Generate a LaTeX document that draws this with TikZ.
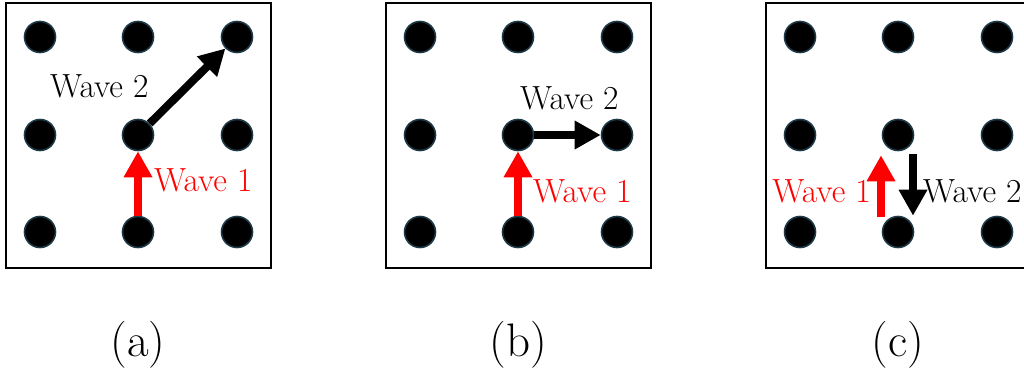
\documentclass[tikz,border=0pt]{standalone}
\usetikzlibrary{arrows.meta,calc}
\definecolor{dotedge}{RGB}{30,58,72}
\definecolor{wavered}{RGB}{255,0,0}
\tikzset{
  dot/.style={circle,minimum size=31pt,inner sep=0pt,fill=black,draw=dotedge,line width=1.6pt},
  panel/.style={draw=black,line width=2.6pt},
  wavearrow/.style={line width=8pt,-{Triangle[length=26pt,width=27pt]}},
  redarrow/.style={wavearrow,draw=wavered},
  blackarrow/.style={wavearrow,draw=black},
  wavetext/.style={font=\rmfamily\fontsize{33.5}{36}\selectfont,inner sep=0pt,anchor=base west},
  sublabel/.style={font=\rmfamily\fontsize{47}{50}\selectfont,inner sep=0pt,anchor=base}
}
\begin{document}
\begin{tikzpicture}[x=1pt,y=-1pt]
\useasboundingbox[fill=white] (0,0) rectangle (1024,371);
\begin{scope}
\clip (0,0) rectangle (1024,371);
% panels
\draw[panel] (6,3) rectangle (271,268);
\draw[panel] (386,3) rectangle (651,268);
\draw[panel] (766,3) rectangle (1031,268);
% dots
\foreach \p/\ox in {a/0,b/380,c/760}{
  \foreach \r/\y in {0/37,1/135,2/232}{
    \foreach \c/\x in {0/40,1/138,2/237}{
      \node[dot] (\p\r\c) at (\x+\ox,\y) {};
    }
  }
}
\end{scope}
% panel (a)
\draw[redarrow] (a21) -- (a11);
\draw[blackarrow] (a11) -- (a02);
\node[wavetext] (a-w2) at (50,98) {Wave 2};
\node[wavetext,text=wavered] (a-w1) at (154,192) {Wave 1};
% panel (b)
\draw[redarrow] (b21) -- (b11);
\draw[blackarrow] (b11) -- (b12);
\node[wavetext] (b-w2) at (520,110) {Wave 2};
\node[wavetext,text=wavered] (b-w1) at (533,203) {Wave 1};
% panel (c)
\coordinate (c-r0) at ($(c21.north)+(-17,1)$);
\coordinate (c-r1) at ($(c11.south)+(-17,4)$);
\coordinate (c-k0) at ($(c11.south)+(15,3)$);
\coordinate (c-k1) at ($(c21.north)+(15,0)$);
\draw[redarrow] (c-r0) -- (c-r1);
\draw[blackarrow] (c-k0) -- (c-k1);
\node[wavetext,text=wavered,anchor=base east] (c-w1) at (871,203) {Wave 1};
\node[wavetext] (c-w2) at (923,203) {Wave 2};
% sub labels
\node[sublabel] (la) at (138,356) {(a)};
\node[sublabel] (lb) at (518,356) {(b)};
\node[sublabel] (lc) at (898,356) {(c)};
\end{tikzpicture}
\end{document}
